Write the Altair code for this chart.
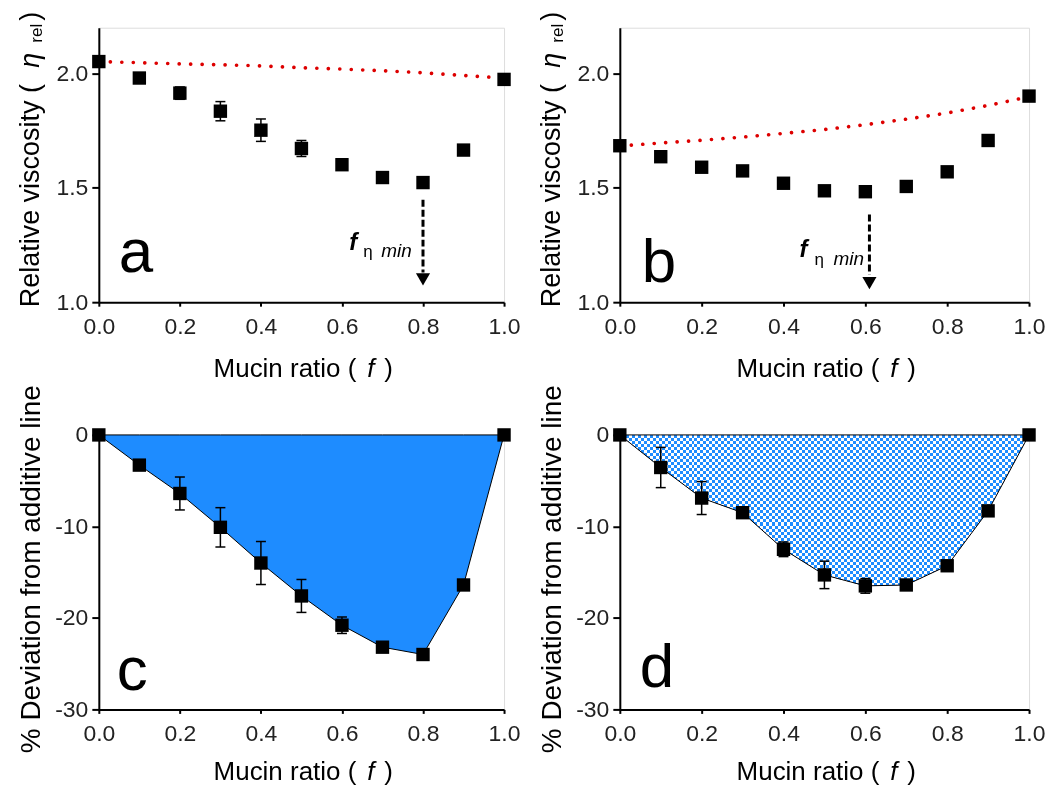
import altair as alt
import pandas as pd

FONT = "Liberation Sans"

# ---------------- data ----------------
mucin_ratio = [0.0, 0.1, 0.2, 0.3, 0.4, 0.5, 0.6, 0.7, 0.8, 0.9, 1.0]

a_viscosity = [2.052, 1.980, 1.914, 1.835, 1.752, 1.672, 1.601, 1.545, 1.523, 1.665, 1.974]
a_error = [0, 0, 0.027, 0.042, 0.049, 0.035, 0, 0, 0, 0, 0]
a_additive = [2.052, 2.047, 2.042, 2.038, 2.033, 2.025, 2.019, 2.012, 2.003, 1.991, 1.980]

b_viscosity = [1.684, 1.636, 1.590, 1.574, 1.520, 1.487, 1.483, 1.506, 1.570, 1.707, 1.901]
b_error = [0, 0, 0, 0, 0, 0, 0, 0, 0, 0, 0]
b_additive = [1.683, 1.696, 1.708, 1.722, 1.738, 1.755, 1.776, 1.800, 1.827, 1.860, 1.898]

c_deviation = [0, -3.3, -6.4, -10.1, -14.0, -17.6, -20.8, -23.2, -24.0, -16.4, 0]
c_error = [0, 0, 1.8, 2.15, 2.35, 1.8, 0.9, 0, 0, 0, 0]

d_deviation = [0, -3.56, -6.9, -8.5, -12.5, -15.3, -16.5, -16.4, -14.3, -8.3, 0]
d_error = [0, 2.2, 1.8, 0, 0.8, 1.5, 0.8, 0, 0, 0, 0]

x_ticks = [0.0, 0.2, 0.4, 0.6, 0.8, 1.0]
visc_ticks = [1.0, 1.5, 2.0]
dev_ticks = [0, -10, -20, -30]

# f_eta_min arrows (mucin ratio, dashed top, dashed bottom, arrow head)
arrow_a = [0.8, 1.448, 1.13, 1.10]
arrow_b = [0.61, 1.383, 1.12, 1.083]

BLUE = "#1E8CFF"
W1, W2 = 406, 410
H_TOP, H_BOT = 275, 275


def x_axis():
    return alt.Axis(values=x_ticks, format=".1f", title=None, grid=False,
                    domainColor="black", domainWidth=2, tickColor="black",
                    tickWidth=2, tickSize=4, labelFont=FONT, labelFontSize=23,
                    labelColor="#222", labelPadding=9, labelFlush=False,
                    labelOverlap=False)


def y_axis(values, expr=None):
    kw = dict(values=values, title=None, grid=False, domainColor="black",
              domainWidth=2, tickColor="black", tickWidth=2, tickSize=7,
              labelFont=FONT, labelFontSize=23, labelColor="#222",
              labelPadding=4, labelFlush=False, labelOverlap=False)
    if expr:
        kw["labelExpr"] = expr
    else:
        kw["format"] = ".1f"
    return alt.Axis(**kw)


def txt(text, x, y, size, angle=0, style="normal", weight="normal", align="left",
        baseline="alphabetic"):
    return alt.Chart(pd.DataFrame({"t": [text]})).mark_text(
        font=FONT, fontSize=size, angle=angle, fontStyle=style, fontWeight=weight,
        align=align, baseline=baseline, color="black"
    ).encode(x=alt.value(x), y=alt.value(y), text="t:N")


def x_title(W, H, off):
    s = W / 2 - 88
    return [
        txt("Mucin ratio (", s, H + off, 26),
        txt("f", s + 154, H + off, 26, style="italic"),
        txt(")", s + 171, H + off, 26),
    ]


def visc_title():
    return [
        txt("Relative viscosity (", -60, 280, 27, angle=270),
        txt("η", -60, 40, 27, angle=270, style="italic"),
        txt("rel", -57, 15, 17, angle=270),
        txt(")", -60, -7, 27, angle=270),
    ]


def errorbars(df, X, ys, yax):
    d = df[df["err"] > 0]
    base = alt.Chart(d)
    stem = base.mark_rule(color="black", strokeWidth=1.5).encode(
        x=X, y=alt.Y("lo:Q", scale=ys, axis=yax), y2="hi:Q")
    cap1 = base.mark_rule(color="black", strokeWidth=1.5, xOffset=-5, x2Offset=5).encode(
        x=X, x2="f:Q", y=alt.Y("lo:Q", scale=ys, axis=yax))
    cap2 = base.mark_rule(color="black", strokeWidth=1.5, xOffset=-5, x2Offset=5).encode(
        x=X, x2="f:Q", y=alt.Y("hi:Q", scale=ys, axis=yax))
    return [stem, cap1, cap2]


def visc_panel(values, errors, additive, arrow, letter, letter_pos, label_pos, W):
    df = pd.DataFrame({"f": mucin_ratio, "v": values, "err": errors, "add": additive})
    df["lo"] = df["v"] - df["err"]
    df["hi"] = df["v"] + df["err"]
    xs = alt.Scale(domain=[0, 1], nice=False, zero=False)
    ys = alt.Scale(domain=[1.0, 2.2], nice=False, zero=False)
    xax = x_axis()
    yax = y_axis(visc_ticks)
    X = alt.X("f:Q", scale=xs, axis=xax)
    base = alt.Chart(df)
    add_line = base.mark_line(color="#dd0000", strokeWidth=3.6, strokeDash=[0.1, 11.4],
                              strokeCap="round").encode(
        x=X, y=alt.Y("add:Q", scale=ys, axis=yax))
    pts = base.mark_square(size=180, color="black", opacity=1).encode(
        x=X, y=alt.Y("v:Q", scale=ys, axis=yax))
    adf = pd.DataFrame({"f": [arrow[0]], "top": [arrow[1]], "bot": [arrow[2]],
                        "head": [arrow[3]]})
    dash = alt.Chart(adf).mark_rule(color="black", strokeWidth=3, strokeDash=[7, 3]).encode(
        x=X, y=alt.Y("top:Q", scale=ys, axis=yax), y2="bot:Q")
    head = alt.Chart(adf).mark_point(shape="triangle-down", filled=True, size=200,
                                     color="black", opacity=1).encode(
        x=X, y=alt.Y("head:Q", scale=ys, axis=yax))
    lx, ly = letter_pos
    fx, fy, ex, mx, sy = label_pos
    layers = [add_line] + errorbars(df, X, ys, yax) + [pts, dash, head,
              txt(letter, lx, ly, 62),
              txt("f", fx, fy, 24, style="italic", weight="bold"),
              txt("η", ex, sy, 17),
              txt("min", mx, sy, 19, style="italic")] + x_title(W, H_TOP, 75) + visc_title()
    return alt.layer(*layers).properties(width=W, height=H_TOP)


def stripes(n, vertical):
    stops = []
    for k in range(n):
        col = "black" if k % 2 == 0 else "white"
        stops.append(alt.GradientStop(color=col, offset=k / n))
        stops.append(alt.GradientStop(color=col, offset=(k + 1) / n))
    if vertical:
        return alt.LinearGradient(gradient="linear", stops=stops, x1=0, y1=0, x2=1, y2=0)
    return alt.LinearGradient(gradient="linear", stops=stops, x1=0, y1=0, x2=0, y2=1)


def dev_panel(values, errors, letter, letter_pos, W, checker):
    df = pd.DataFrame({"f": mucin_ratio, "v": values, "err": errors})
    df["lo"] = df["v"] - df["err"]
    df["hi"] = df["v"] + df["err"]
    df["zero"] = 0
    xs = alt.Scale(domain=[0, 1], nice=False, zero=False)
    ys = alt.Scale(domain=[-30, 0], nice=False, zero=False)
    X = alt.X("f:Q", scale=xs, axis=x_axis())
    expr = "datum.value < 0 ? '-' + abs(datum.value) : '' + datum.value"
    yax = y_axis(dev_ticks, expr)
    Y = alt.Y("v:Q", scale=ys, axis=yax)
    base = alt.Chart(df)
    if checker:
        span = (0 - min(values)) / 30.0 * H_BOT
        nv = int(round(W / 3.0))
        nh = int(round(span / 3.0))
        fills = [
            base.mark_area(fill=stripes(nv, True), strokeWidth=0).encode(x=X, y=Y, y2="zero:Q"),
            base.mark_area(fill=stripes(nh, False), strokeWidth=0, blend="difference").encode(
                x=X, y=Y, y2="zero:Q"),
            base.mark_area(fill=BLUE, strokeWidth=0, blend="lighten").encode(
                x=X, y=Y, y2="zero:Q"),
            base.mark_area(fillOpacity=0, stroke="black", strokeWidth=1).encode(
                x=X, y=Y, y2="zero:Q"),
        ]
    else:
        fills = [base.mark_area(fill=BLUE, stroke="black", strokeWidth=1, opacity=1).encode(
            x=X, y=Y, y2="zero:Q")]
    pts = base.mark_square(size=180, color="black", opacity=1).encode(x=X, y=Y)
    lx, ly = letter_pos
    layers = fills + errorbars(df, X, ys, yax) + [pts, txt(letter, lx, ly, 62)] + \
        x_title(W, H_BOT, 71) + [
        txt("% Deviation from additive line", -59, H_BOT / 2 - 3, 28, angle=270, align="center")]
    return alt.layer(*layers).properties(width=W, height=H_BOT)


pa = visc_panel(a_viscosity, a_error, a_additive, arrow_a, "a", (20, 245),
                (251, 223, 265, 283, 230), W1)
pb = visc_panel(b_viscosity, b_error, b_additive, arrow_b, "b", (22, 255),
                (180, 230, 195, 214, 238), W2)
pc = dev_panel(c_deviation, c_error, "c", (18, 256), W1, False)
pd_ = dev_panel(d_deviation, d_error, "d", (20, 253), W2, True)

chart = alt.concat(pa, pb, pc, pd_, columns=2, spacing={"row": 133, "column": 116},
                   bounds="flush").configure_view(stroke="#8a8a8a", strokeWidth=1.5
                   ).configure(font=FONT, padding={"left": 8, "top": 2, "right": 0, "bottom": 0})

chart.save("out.html", embed_options={"renderer": "svg", "actions": False})
